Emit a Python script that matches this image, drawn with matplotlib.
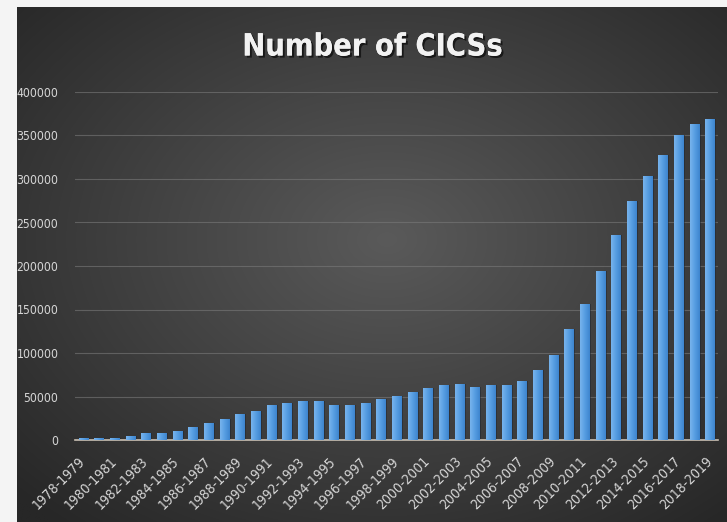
import numpy as np
import matplotlib
matplotlib.use("Agg")
import matplotlib.pyplot as plt
import matplotlib.patheffects as pe

categories = [f"{y}-{y+1}" for y in range(1978, 2019)]
values = [2500, 2500, 2500, 4500, 7500, 8400, 10000, 14500, 20000, 24500,
          29500, 33700, 40000, 43000, 44500, 44500, 40000, 40000, 43000, 47500,
          50500, 55000, 59400, 62800, 64300, 61300, 62800, 62800, 67600, 80800,
          97300, 127500, 156300, 193800, 235500, 274600, 303300, 327500, 350000,
          362700, 368800]
yticks = [0, 50000, 100000, 150000, 200000, 250000, 300000, 350000, 400000]
title = "Number of CICSs"

FONT = ['DejaVu Sans']
STRETCH = 'condensed'

W, H = 727, 522
fig = plt.figure(figsize=(W / 100, H / 100), dpi=100)
fig.patch.set_facecolor('#f4f4f4')

# dark radial background panel
bg = fig.add_axes([17 / W, 0, (W - 17) / W, 1 - 7 / H])
bg.set_axis_off()
ny, nx = 300, 420
yy, xx = np.mgrid[0:ny, 0:nx]
cx, cy = nx * 0.52, ny * 0.45
r = np.sqrt(((xx - cx) / nx) ** 2 + ((yy - cy) / ny) ** 2)
r = np.clip(r / 0.72, 0, 1)
inner = np.array([0x5a, 0x5a, 0x5a]) / 255
outer = np.array([0x27, 0x27, 0x27]) / 255
img = inner[None, None, :] * (1 - r[..., None]) + outer[None, None, :] * r[..., None]
bg.imshow(img, aspect='auto', extent=[0, 1, 0, 1], interpolation='bilinear')
bg.set_xlim(0, 1)
bg.set_ylim(0, 1)

ax = fig.add_axes([75 / W, 1 - 440 / H, (718 - 75) / W, (440 - 92) / H])
ax.patch.set_alpha(0)
x = np.arange(len(categories))
bars = ax.bar(x, values, width=0.58, color='#5a9fe0', zorder=6)

# horizontal gradient on each bar
grad = np.linspace(0, 1, 64)[None, :]
cmap = matplotlib.colors.LinearSegmentedColormap.from_list(
    'b', ['#78b4ec', '#569de2', '#3d84ce'])
for b in bars:
    bx, by = b.get_x(), b.get_y()
    bw, bh = b.get_width(), b.get_height()
    ax.bar(bx + bw / 2 + 0.12, bh, width=bw, color='#1c2430', alpha=0.5, zorder=2)
    im = ax.imshow(grad, cmap=cmap, aspect='auto', extent=[bx, bx + bw, by, by + bh],
                   zorder=7, interpolation='bilinear')
    im.set_clip_path(b)

ax.set_xlim(-0.52, len(categories) - 0.48)
ax.set_ylim(0, 400000)
ax.set_yticks(yticks)
ax.set_yticklabels([str(v) for v in yticks], fontfamily=FONT, fontstretch=STRETCH,
                   fontsize=8.7, color='#d6d6d6')
ax.yaxis.grid(True, color='#7a7a7a', linewidth=0.8, alpha=0.6, zorder=1)
ax.set_axisbelow(True)
ax.tick_params(axis='y', length=0, pad=12)

ax.set_xticks(x[::2])
ax.set_xticklabels(categories[::2], rotation=45, ha='right', va='center',
                   rotation_mode='anchor', fontfamily=FONT, fontstretch=STRETCH,
                   fontsize=10, color='#d6d6d6')
ax.tick_params(axis='x', length=0, pad=14)

for s in ['top', 'right', 'left']:
    ax.spines[s].set_visible(False)
ax.spines['bottom'].set_color('#c9c0b4')
ax.spines['bottom'].set_linewidth(1.2)
ax.spines['bottom'].set_zorder(5)

fig.text(372 / W, 1 - 47 / H, title, ha='center', va='center', fontsize=22,
         fontweight='bold', fontstretch=STRETCH, color='#f2f2f2', fontfamily=FONT,
         path_effects=[pe.withSimplePatchShadow(offset=(1.5, -1.5), shadow_rgbFace='black', alpha=0.6),
                       pe.Normal()])

fig.savefig('out.png', dpi=100, facecolor=fig.get_facecolor())
